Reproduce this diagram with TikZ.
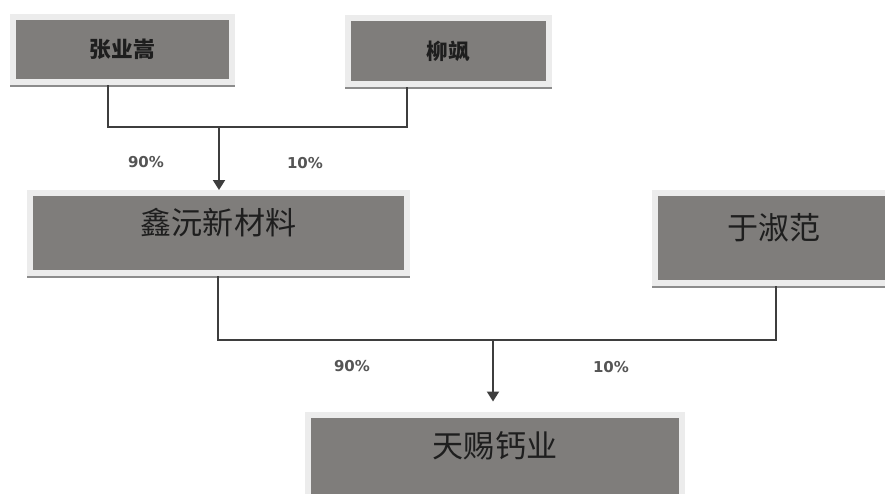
\documentclass[tikz,border=0pt]{standalone}
\usepackage{fontspec}
\usepackage{tikz}
\usetikzlibrary{arrows.meta}
\newfontfamily\cjk{Noto Sans CJK SC}
\newfontfamily\pctfont{DejaVu Sans}
\definecolor{box_gray}{RGB}{127,125,123}
\definecolor{frame_gray}{RGB}{236,236,236}
\definecolor{shade_gray}{RGB}{140,140,140}
\definecolor{line_gray}{RGB}{62,62,62}
\definecolor{text_dark}{RGB}{30,30,30}
\definecolor{pct_gray}{RGB}{85,85,85}
\tikzstyle{pbox}=[rectangle,fill=box_gray,draw=frame_gray,line width=0.18cm,
  preaction={draw=shade_gray,fill=shade_gray,transform canvas={yshift=-0.07cm}},
  inner sep=0pt,text=text_dark]
\tikzstyle{small}=[style=pbox,font=\cjk\bfseries\fontsize{18.5}{20}\selectfont]
\tikzstyle{big}=[style=pbox,font=\cjk\fontsize{26.5}{28}\selectfont,
  text height=0.9em,text depth=0.7em]
\tikzstyle{pct}=[font=\pctfont\bfseries\fontsize{12.8}{15}\selectfont,text=pct_gray]
\tikzstyle{link}=[draw=line_gray,line width=0.06cm]
\tikzstyle{arr}=[style=link,-{Triangle[width=0.36cm,length=0.3cm]}]

\begin{document}
\begin{tikzpicture}[x=0.03cm,y=-0.03cm]
    \useasboundingbox [fill=white] (0,0) rectangle (885,493);
    \node [style=small,minimum width=6.57cm,minimum height=1.95cm] (zy) at (122.5,49.5) {张业嵩};
    \node [style=small,minimum width=6.03cm,minimum height=1.98cm] (lx) at (448.5,51) {柳飒};
    \node [style=big,minimum width=11.31cm,minimum height=2.4cm] (xy) at (218.5,233) {鑫沅新材料};
    \node [style=big,minimum width=7.14cm,minimum height=2.7cm] (ys) at (774,238) {于淑范};
    \node [style=big,minimum width=11.22cm,minimum height=2.49cm] (tc) at (495,456) {天赐钙业};
    \coordinate (zyl) at (108,127);
    \coordinate (lxr) at (407,127);
    \coordinate (j1) at (219,127);
    \coordinate (xyl) at (218,340);
    \coordinate (ysr) at (776,340);
    \coordinate (j2) at (493,340);
    \draw [style=link] (zyl |- zy.south) to (zyl) to (lxr) to (lxr |- lx.south);
    \draw [style=arr] (j1) to (j1 |- xy.north);
    \draw [style=link] (xyl |- xy.south) to (xyl) to (ysr) to (ysr |- ys.south);
    \draw [style=arr,shorten >=0.3cm] (j2) to (j2 |- tc.north);
    \node [style=pct] (p1) at (146,162) {90\%};
    \node [style=pct] (p2) at (305,163) {10\%};
    \node [style=pct] (p3) at (352,366) {90\%};
    \node [style=pct] (p4) at (611,367) {10\%};
\end{tikzpicture}
\end{document}
